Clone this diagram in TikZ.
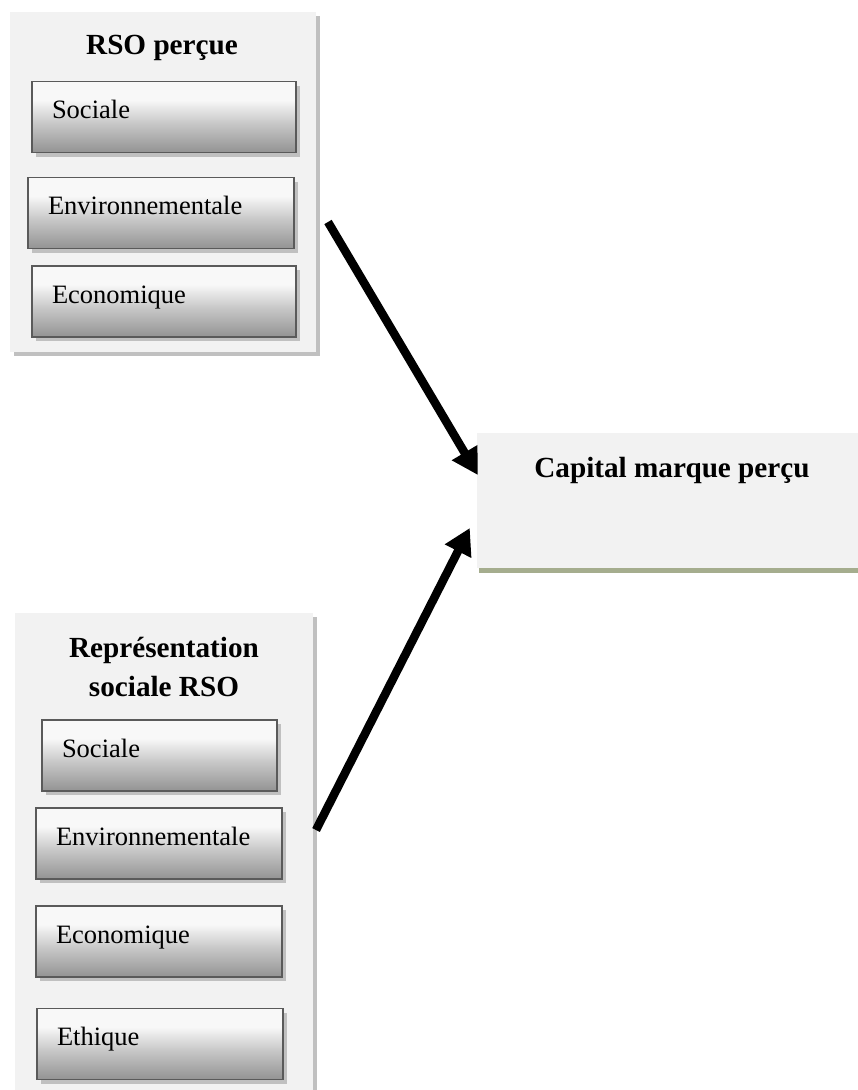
\documentclass[tikz,border=0pt]{standalone}
\usepackage{fontspec}
\setmainfont{Liberation Serif}
\usetikzlibrary{arrows.meta,positioning,shadows}
\definecolor{panelgray}{HTML}{F2F2F2}
\definecolor{shadowgray}{HTML}{C0C0C0}
\definecolor{boxline}{HTML}{5A5A5A}
\definecolor{capline}{HTML}{A5AD8E}
\definecolor{shadeA}{HTML}{939393}
\definecolor{shadeB}{HTML}{C6C6C6}
\definecolor{shadeC}{HTML}{F8F8F8}
\pgfdeclareverticalshading{itemshade}{100bp}{color(0bp)=(shadeA); color(25bp)=(shadeA); color(45bp)=(shadeB); color(62bp)=(shadeC); color(75bp)=(shadeC); color(100bp)=(shadeC)}

\begin{document}
\begin{tikzpicture}[x=1pt,y=-1pt,>=Latex]
  \tikzstyle{panel}=[fill=panelgray,inner sep=0pt,drop shadow={shadow xshift=4pt,shadow yshift=-4pt,fill=shadowgray,opacity=1}]
  \tikzstyle{item}=[draw=boxline,line width=1.5pt,shading=itemshade,inner xsep=20pt,inner ysep=0pt,text height=37pt,text depth=34pt,align=left,font=\fontsize{26.5}{31}\selectfont,drop shadow={shadow xshift=4pt,shadow yshift=-4pt,fill=shadowgray,opacity=1}]
  \tikzstyle{title}=[font=\bfseries\fontsize{29.2}{39}\selectfont,align=center]
  \tikzstyle{arrow}=[line width=8.5pt,-{Triangle[length=26pt,width=28pt]}]
  \useasboundingbox (0,0) rectangle (858,1090);

  % RSO percue
  \node[panel,minimum width=306pt,minimum height=340pt] (rso) at (163,182) {};
  \node[title] (rsotitle) at (162,48) {RSO perçue};
  \node[item,text width=224pt] (soc1) at (164,117) {Sociale};
  \node[item,text width=226pt] (env1) at (161,213) {Environnementale};
  \node[item,text width=224pt] (eco1) at (164,301.5) {Economique};

  % representation sociale
  \node[panel,minimum width=298pt,minimum height=482pt] (rep) at (164,854) {};
  \node[title] (reptitle) at (164,667) {Représentation\\sociale RSO};
  \node[item,text width=195pt] (soc2) at (159.5,755.5) {Sociale};
  \node[item,text width=206pt] (env2) at (159,843.5) {Environnementale};
  \node[item,text width=206pt] (eco2) at (159,941.5) {Economique};
  \node[item,text width=206pt] (eth2) at (160,1044) {Ethique};

  % capital marque
  \node[fill=panelgray,inner sep=0pt,minimum width=393pt,minimum height=135pt] (cap) at (673.5,500.5) {};
  \node[title] (captitle) at (672,470) {Capital marque perçu};
  \draw[capline,line width=5pt] ([xshift=2pt,yshift=-2.5pt]cap.south west) -- ([yshift=-2.5pt]cap.south east);

  \coordinate (a1) at (328,222);
  \coordinate (a2) at (316,830);
  \draw[arrow] (a1) -- ([xshift=1pt,yshift=25.5pt]cap.west);
  \draw[arrow] (a2) -- ([xshift=-7pt,yshift=-27.5pt]cap.west);
\end{tikzpicture}
\end{document}
